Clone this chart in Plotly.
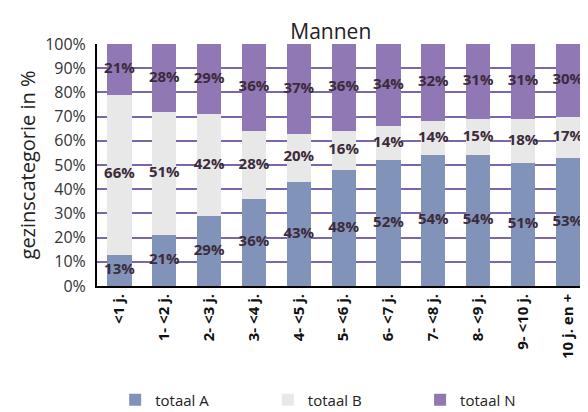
import plotly.graph_objects as go

categories = ["<1 j.", "1- <2 j.", "2- <3 j.", "3- <4 j.", "4- <5 j.", "5- <6 j.",
              "6- <7 j.", "7- <8 j.", "8- <9 j.", "9- <10 j.", "10 j. en +"]
totaal_A = [13, 21, 29, 36, 43, 48, 52, 54, 54, 51, 53]
totaal_B = [66, 51, 42, 28, 20, 16, 14, 14, 15, 18, 17]
totaal_N = [21, 28, 29, 36, 37, 36, 34, 32, 31, 31, 30]
y_ticks = [0, 10, 20, 30, 40, 50, 60, 70, 80, 90, 100]

series = [("totaal A", totaal_A, "#8293ba", "legend"),
          ("totaal B", totaal_B, "#e8e8e8", "legend2"),
          ("totaal N", totaal_N, "#8f78b4", "legend3")]

fig = go.Figure()
base = [0] * len(categories)
for name, vals, col, leg in series:
    fig.add_trace(go.Bar(
        x=categories, y=vals, name=name, legend=leg,
        marker=dict(color=col, line=dict(width=0)),
        width=0.54,
    ))
    mids = [b + v / 2 for b, v in zip(base, vals)]
    fig.add_trace(go.Scatter(
        x=categories, y=mids, mode="text", showlegend=False, hoverinfo="skip",
        text=[f"{v}%" for v in vals], textposition="middle center",
        textfont=dict(family="Open Sans", size=15, color="#3b2b3b", weight="bold"),
        cliponaxis=False,
    ))
    base = [b + v for b, v in zip(base, vals)]

leg_style = dict(orientation="h", y=-0.471, xanchor="left", yanchor="middle",
                 font=dict(family="Open Sans", size=15, color="#222"),
                 bgcolor="rgba(0,0,0,0)")

fig.update_layout(
    width=588, height=412,
    barmode="stack",
    paper_bgcolor="white", plot_bgcolor="white",
    margin=dict(l=89, r=8, t=36, b=134, autoexpand=False),
    title=dict(text="Mannen", x=0.549, xanchor="center", y=0.942, yanchor="middle",
               font=dict(family="Open Sans", size=21, color="#222")),
    legend=dict(x=0.037, **leg_style),
    legend2=dict(x=0.348, **leg_style),
    legend3=dict(x=0.658, **leg_style),
    showlegend=True,
)
fig.update_xaxes(
    range=[-0.5, 10.45], tickangle=-90, automargin=False,
    tickfont=dict(family="Open Sans", size=15, color="#111", weight="bold"),
    showline=True, linecolor="black", linewidth=2, ticks="",
    showgrid=False,
)
fig.update_yaxes(
    range=[0, 100], tickvals=y_ticks, ticktext=[f"{v}%" for v in y_ticks],
    automargin=False, ticklabelstandoff=6,
    tickfont=dict(family="Open Sans", size=16, color="#333"),
    title=dict(text="gezinscategorie in %", font=dict(family="Open Sans", size=20, color="#222"), standoff=4),
    showline=True, linecolor="black", linewidth=2,
    showgrid=True, gridcolor="#7a66a8", gridwidth=1.5,
    zeroline=False, ticks="", ticklen=0,
)

fig.write_html("out.html")
